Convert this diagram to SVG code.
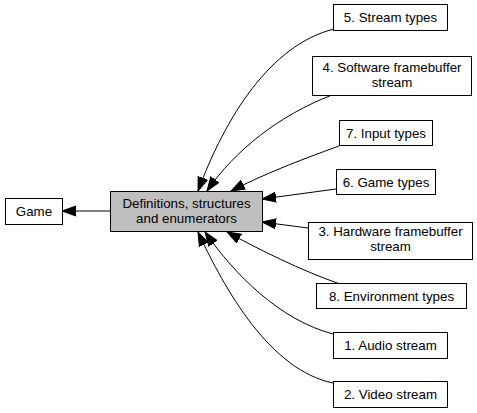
<svg xmlns="http://www.w3.org/2000/svg" width="477" height="413" viewBox="0 0 477 413">
<style>
.box{fill:#ffffff;stroke:#000000;stroke-width:1}
.main{fill:#bfbfbf;stroke:#000000;stroke-width:1}
text{font-family:"Liberation Sans",Arial,sans-serif;font-size:13.33px;fill:#000000;text-anchor:middle}
.edge{fill:none;stroke:#000000;stroke-width:1;marker-end:url(#ah)}
</style>
<defs>
<marker id="ah" markerUnits="userSpaceOnUse" markerWidth="16" markerHeight="12" refX="14" refY="5.5" orient="auto">
<path d="M0,0.5 L14,5.5 L0,10.5 z" fill="#000000" stroke="#000000" stroke-width="1"/>
</marker>
</defs>
<rect width="477" height="413" fill="#ffffff"/>
<g id="connectors">
<path class="edge" d="M110,211 L62,211"/>
<path class="edge" d="M334,29 C270,45 225,118 198,191"/>
<path class="edge" d="M332,95 C280,115 235,150 207,191"/>
<path class="edge" d="M339,146 C300,160 262,175 231,191"/>
<path class="edge" d="M336,189 L262,199"/>
<path class="edge" d="M308,228 L262,222"/>
<path class="edge" d="M340,284 C300,270 260,250 227,232"/>
<path class="edge" d="M333,334 C280,320 235,275 205,232"/>
<path class="edge" d="M333,383 C270,370 225,290 198,232"/>
</g>
<g id="game"><rect class="box" x="5.5" y="198.5" width="57" height="26"/><text x="34" y="216">Game</text></g>
<g id="defs"><rect class="main" x="110.5" y="191.5" width="152" height="40"/><text x="186.5" y="207.5">Definitions, structures</text><text x="186.5" y="222.5">and enumerators</text></g>
<g id="n5"><rect class="box" x="333.5" y="4.5" width="114" height="26"/><text x="390.5" y="22">5. Stream types</text></g>
<g id="n4"><rect class="box" x="312.5" y="56.5" width="159" height="39"/><text x="392" y="72">4. Software framebuffer</text><text x="392" y="87">stream</text></g>
<g id="n7"><rect class="box" x="339.5" y="120.5" width="93" height="25"/><text x="386" y="137.5">7. Input types</text></g>
<g id="n6"><rect class="box" x="336.5" y="169.5" width="99" height="25"/><text x="386" y="186.5">6. Game types</text></g>
<g id="n3"><rect class="box" x="308.5" y="222.5" width="164" height="37"/><text x="390.5" y="236">3. Hardware framebuffer</text><text x="390.5" y="251">stream</text></g>
<g id="n8"><rect class="box" x="316.5" y="283.5" width="150" height="25"/><text x="391.5" y="300.5">8. Environment types</text></g>
<g id="n1"><rect class="box" x="333.5" y="332.5" width="114" height="26"/><text x="390.5" y="350">1. Audio stream</text></g>
<g id="n2"><rect class="box" x="333.5" y="381.5" width="114" height="26"/><text x="390.5" y="399">2. Video stream</text></g>
</svg>
